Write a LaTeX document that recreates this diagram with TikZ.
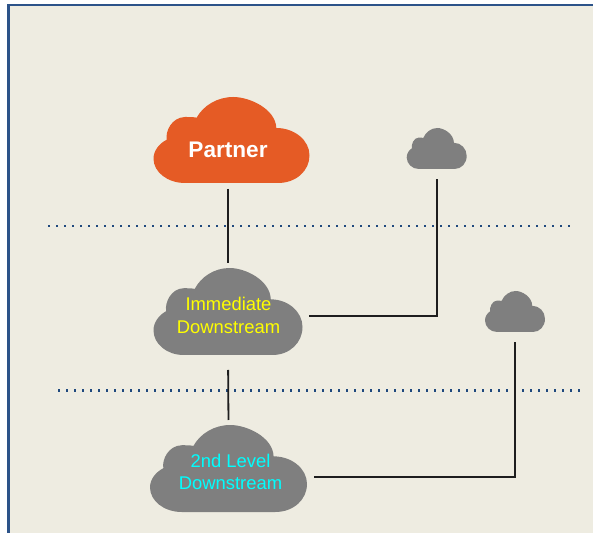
\documentclass[tikz,border=0pt]{standalone}
\usepackage{fontspec}
\setmainfont{Liberation Sans}
\definecolor{bgpanel}{HTML}{EEECE1}
\definecolor{framecol}{HTML}{2C5389}
\definecolor{cloudgray}{HTML}{7F7F7F}
\definecolor{cloudorange}{HTML}{E55B25}
\definecolor{dotcol}{HTML}{1F497D}
\definecolor{linecol}{HTML}{1E1E1E}
\definecolor{labelyellow}{HTML}{FFFF00}
\definecolor{labelcyan}{HTML}{00FFFF}
% cloud outline in a 470 x 258 box, origin bottom left, y upward
\newcommand{\cloudoutline}{
  (95,0) .. controls (42,0) and (0,33) .. (0,73)
  .. controls (0,97) and (17,118) .. (40,130)
  .. controls (35,155) and (55,197) .. (95,198)
  .. controls (108,198) and (120,198) .. (130,196)
  .. controls (150,232) and (192,258) .. (240,258)
  .. controls (290,258) and (368,222) .. (370,165)
  .. controls (425,165) and (470,128) .. (470,83)
  .. controls (470,37) and (430,0) .. (375,0) -- cycle}
\tikzset{
  cloudbox/.style={inner sep=0pt,outer sep=0pt,align=center},
  label a/.style={cloudbox,text=labelyellow,font=\fontsize{18.4}{22.7}\selectfont},
  label b/.style={cloudbox,text=labelcyan,font=\fontsize{18.4}{22.7}\selectfont},
  label c/.style={cloudbox,text=white,font=\fontsize{22.6}{26}\selectfont\bfseries},
  sepline/.style={dotcol,line width=2.2pt,dash pattern=on 2.2pt off 5.8pt},
  link/.style={linecol,line width=1.8pt,line join=miter},
  bgframe/.style={fill=bgpanel,draw=framecol,line width=2.2pt}
}
\newcommand{\cloudat}[6]{% left, bottom, width, height, colour, name
  \fill[#5,shift={(#1pt,#2pt)},xscale=#3/470,yscale=#4/258] \cloudoutline;
  \coordinate (#6) at (#1pt+0.5*#3pt,#2pt+0.5*#4pt);
  \coordinate (#6 top) at (#1pt+0.5*#3pt,#2pt+#4pt);
  \coordinate (#6 bottom) at (#1pt+0.5*#3pt,#2pt);
  \coordinate (#6 right) at (#1pt+#3pt,#2pt+0.5*#4pt);
}
\begin{document}
\begin{tikzpicture}[x=1pt,y=1pt]
\useasboundingbox (0,0) rectangle (593,532);
\fill[white] (0,0) rectangle (593,532);
\begin{scope}
\clip (0,0) rectangle (593,532);
\draw[bgframe] (8.5,-10) rectangle (610,527.3);
\end{scope}
\draw[sepline] (48,306) -- (570,306);
\draw[sepline] (58,141.5) -- (580,141.5);
\cloudat{153.5}{349}{156}{86}{cloudorange}{partner}
\cloudat{406.7}{363}{60}{41}{cloudgray}{smallA}
\cloudat{153.5}{177}{149}{87}{cloudgray}{immediate}
\cloudat{485}{200}{60}{41}{cloudgray}{smallB}
\cloudat{150}{20}{157}{87}{cloudgray}{second}
\node[label c] (partnerlabel) at (228,382) {Partner};
\node[label a] (immlabel) at (228.5,216.5) {Immediate\\Downstream};
\node[label b] (seclabel) at (230.5,60) {2nd Level\\Downstream};
\draw[link,shorten <=6pt,shorten >=5pt] (partnerlabel |- partner bottom) -- (immediate top);
\draw[link,shorten <=15pt,shorten >=5pt] (immediate bottom) -- (second top);
\draw[link,shorten <=6.5pt,shorten >=10pt] ([yshift=-4.5pt]immediate right) -| (smallA bottom);
\draw[link,shorten <=7pt,shorten >=10pt] ([yshift=-8.5pt]second right) -| (smallB bottom);
\end{tikzpicture}
\end{document}
